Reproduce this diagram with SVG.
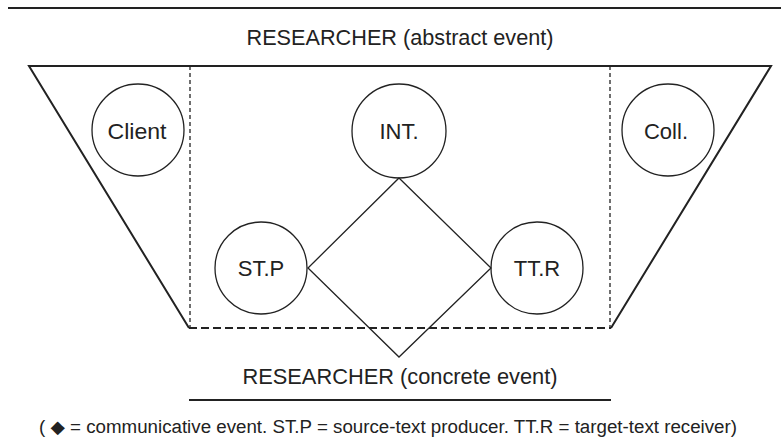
<svg xmlns="http://www.w3.org/2000/svg" width="781" height="444" viewBox="0 0 781 444">
<style>
text{font-family:"Liberation Sans","DejaVu Sans",sans-serif;fill:#222;text-anchor:middle}
.title{font-size:22px}
.lbl{font-size:22px}
.note{font-size:18px}
.node circle{fill:none;stroke:#222;stroke-width:1.3}
.solid{fill:none;stroke:#222;stroke-width:2}
.vdash{fill:none;stroke:#222;stroke-width:1.3;stroke-dasharray:4 3}
.hdash{fill:none;stroke:#222;stroke-width:2;stroke-dasharray:8 4}
.thin{fill:none;stroke:#222;stroke-width:1.3}
</style>
<rect width="781" height="444" fill="#fff"/>
<g id="frame">
<line class="solid" x1="8" y1="8" x2="781" y2="8"/>
<text class="title" x="400" y="45" textLength="307" lengthAdjust="spacingAndGlyphs">RESEARCHER (abstract event)</text>
<polyline class="solid" points="189,328 29,66 771,66 611,328"/>
<line class="vdash" x1="190" y1="66" x2="190" y2="328"/>
<line class="vdash" x1="610" y1="66" x2="610" y2="328"/>
<line class="hdash" x1="189" y1="328" x2="611" y2="328"/>
<text class="title" x="400" y="384" textLength="315" lengthAdjust="spacingAndGlyphs">RESEARCHER (concrete event)</text>
<line class="solid" x1="189" y1="400" x2="611" y2="400"/>
<text class="note" x="388" y="433" textLength="698" lengthAdjust="spacingAndGlyphs">( ◆ = communicative event. ST.P = source-text producer. TT.R = target-text receiver)</text>
</g>
<g id="connectors">
<polygon id="event" class="thin" points="399,178 491,268 399,357 308,268"/>
</g>
<g id="client" class="node"><circle cx="138" cy="130" r="46"/><text class="lbl" x="137" y="139" textLength="59" lengthAdjust="spacingAndGlyphs">Client</text></g>
<g id="int" class="node"><circle cx="399" cy="131" r="47"/><text class="lbl" x="399" y="139">INT.</text></g>
<g id="coll" class="node"><circle cx="668" cy="130" r="46"/><text class="lbl" x="666" y="139">Coll.</text></g>
<g id="stp" class="node"><circle cx="261" cy="268" r="46"/><text class="lbl" x="261" y="276">ST.P</text></g>
<g id="ttr" class="node"><circle cx="537" cy="268" r="46"/><text class="lbl" x="537" y="276">TT.R</text></g>
</svg>
